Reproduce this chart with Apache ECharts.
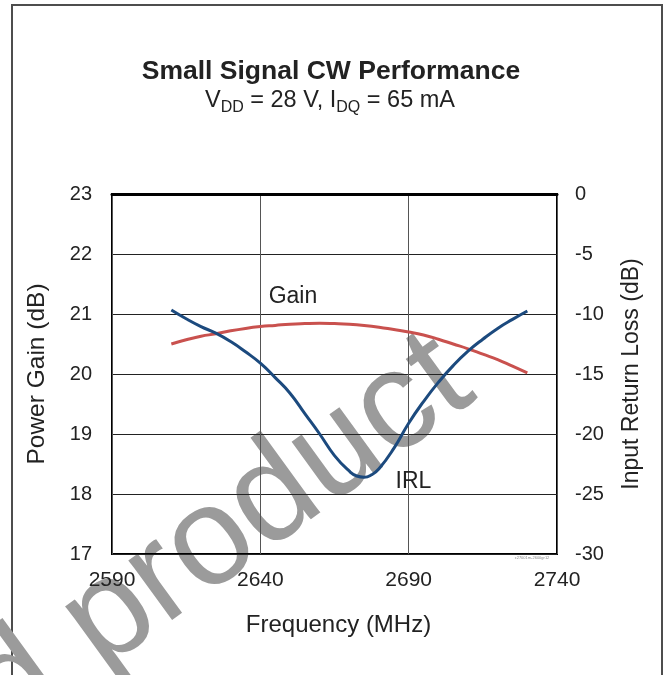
<!DOCTYPE html>
<html>
<head>
<meta charset="utf-8">
<script src="https://cdn.jsdelivr.net/npm/echarts@6/dist/echarts.min.js"></script>
<style>
html,body{margin:0;padding:0;background:#fff;}
#c{width:666px;height:675px;}
</style>
</head>
<body>
<div id="c"></div>
<script>
// ---- data ----
var gainFreq = [2610, 2615, 2620, 2625, 2630, 2635, 2640, 2645, 2650, 2655, 2660, 2665, 2670,
                2675, 2680, 2685, 2690, 2695, 2700, 2705, 2710, 2715, 2720, 2725, 2730];
var gainDb   = [20.50, 20.57, 20.63, 20.67, 20.72, 20.76, 20.79, 20.81, 20.83, 20.84, 20.845, 20.84, 20.83,
                20.81, 20.78, 20.74, 20.70, 20.65, 20.58, 20.50, 20.42, 20.33, 20.24, 20.13, 20.02];
var irlFreq  = [2610, 2615, 2620, 2625, 2630, 2635, 2640, 2645, 2650, 2655, 2660, 2665, 2670,
                2672.5, 2675, 2677.5, 2680, 2685, 2690, 2695, 2700, 2705, 2710, 2715, 2720, 2725, 2730];
var irlDb    = [-9.67, -10.4, -11.05, -11.6, -12.3, -13.15, -14.1, -15.3, -16.6, -18.3, -20.0, -21.8, -23.1,
                -23.5, -23.6, -23.4, -22.9, -21.2, -19.1, -17.3, -15.7, -14.3, -13.1, -12.1, -11.2, -10.45, -9.75];
var xTicks = [2590, 2640, 2690, 2740];
var leftTicks = [17, 18, 19, 20, 21, 22, 23];
var rightTicks = [-30, -25, -20, -15, -10, -5, 0];
var gainLabel = {text: 'Gain', freq: 2651, value: 21.29};
var irlLabel = {text: 'IRL', freq: 2691.6, value: -23.98};

var FONT = '"Liberation Sans", Arial, Helvetica, sans-serif';

var chart = echarts.init(document.getElementById('c'), null, {renderer: 'canvas'});

function pairs(xs, ys) { return xs.map(function (x, i) { return [x, ys[i]]; }); }

var wmAngle = 36 * Math.PI / 180;

chart.setOption({
  animation: false,
  backgroundColor: '#fff',
  textStyle: {fontFamily: FONT},
  title: [{
    text: 'Small Signal CW Performance',
    left: 326, top: 53, textAlign: 'center',
    textStyle: {fontFamily: FONT, fontSize: 26.5, fontWeight: 'bold', color: '#222'}
  }, {
    text: '{n|V}{s|DD}{n| = 28 V, I}{s|DQ}{n| = 65 mA}',
    left: 325, top: 81, textAlign: 'center',
    textStyle: {
      fontFamily: FONT, fontSize: 23.5, color: '#222', fontWeight: 'normal',
      rich: {
        n: {fontFamily: FONT, fontSize: 23.5, color: '#222'},
        s: {fontFamily: FONT, fontSize: 16, color: '#222', padding: [14, 0, 0, 0]}
      }
    }
  }],
  graphic: [{
    type: 'rect', z: -10, silent: true,
    shape: {x: 12, y: 5, width: 650, height: 720},
    style: {fill: 'none', stroke: '#4d4d4d', lineWidth: 2}
  }, {
    type: 'text', z: -5, silent: true,
    x: -16, y: 709, rotation: wmAngle,
    style: {text: 'd product', font: '140px ' + FONT, fill: '#9b9b9b',
            textAlign: 'left', textVerticalAlign: 'middle'}
  }, {
    type: 'text', z: 5, silent: true,
    x: 532, y: 558,
    style: {text: 'c27001m-2600gr12', font: '4px ' + FONT, fill: '#888',
            textAlign: 'center', textVerticalAlign: 'middle'}
  }],
  grid: {
    left: 112, right: 109, top: 194, bottom: 121,
    show: true, borderColor: '#000', borderWidth: 2, backgroundColor: 'transparent'
  },
  xAxis: {
    type: 'value', min: xTicks[0], max: xTicks[xTicks.length - 1], interval: 50,
    name: 'Frequency (MHz)', nameLocation: 'middle', nameGap: 59,
    nameTextStyle: {fontFamily: FONT, fontSize: 24, color: '#222', padding: [0, 0, 0, 8]},
    axisLine: {show: true, lineStyle: {color: '#000', width: 3}},
    axisTick: {show: false},
    axisLabel: {fontFamily: FONT, fontSize: 21, color: '#222', margin: 16,
                formatter: function (v) { return String(v); }},
    splitLine: {show: true, lineStyle: {color: '#555', width: 1}}
  },
  yAxis: [{
    type: 'value', min: leftTicks[0], max: leftTicks[leftTicks.length - 1], interval: 1,
    position: 'left',
    name: 'Power Gain (dB)', nameLocation: 'middle', nameGap: 62,
    nameTextStyle: {fontFamily: FONT, fontSize: 24.5, color: '#222'},
    axisLine: {show: false}, axisTick: {show: false},
    axisLabel: {fontFamily: FONT, fontSize: 20, color: '#222', margin: 20,
                formatter: function (v) { return String(v); }},
    splitLine: {show: true, lineStyle: {color: '#222', width: 1}}
  }, {
    type: 'value', min: rightTicks[0], max: rightTicks[rightTicks.length - 1], interval: 5,
    position: 'right',
    name: 'Input Return Loss (dB)', nameLocation: 'middle', nameGap: 63,
    nameTextStyle: {fontFamily: FONT, fontSize: 23, color: '#222'},
    axisLine: {show: false}, axisTick: {show: false},
    axisLabel: {fontFamily: FONT, fontSize: 20, color: '#222', margin: 18,
                formatter: function (v) { return String(v); }},
    splitLine: {show: false}
  }],
  series: [{
    name: 'Gain', type: 'line', yAxisIndex: 0, z: 3,
    data: pairs(gainFreq, gainDb), smooth: true, showSymbol: false,
    lineStyle: {color: '#c9514e', width: 3},
    markPoint: {
      symbol: 'circle', symbolSize: 0, silent: true,
      data: [{coord: [gainLabel.freq, gainLabel.value],
               label: {show: true, formatter: gainLabel.text, position: 'inside',
                       fontFamily: FONT, fontSize: 23, color: '#222'}}]
    }
  }, {
    name: 'IRL', type: 'line', yAxisIndex: 1, z: 4,
    data: pairs(irlFreq, irlDb), smooth: true, showSymbol: false,
    lineStyle: {color: '#1c4a7e', width: 3},
    markPoint: {
      symbol: 'circle', symbolSize: 0, silent: true,
      data: [{coord: [irlLabel.freq, irlLabel.value],
               label: {show: true, formatter: irlLabel.text, position: 'inside',
                       fontFamily: FONT, fontSize: 23, color: '#222'}}]
    }
  }]
});
</script>
</body>
</html>
